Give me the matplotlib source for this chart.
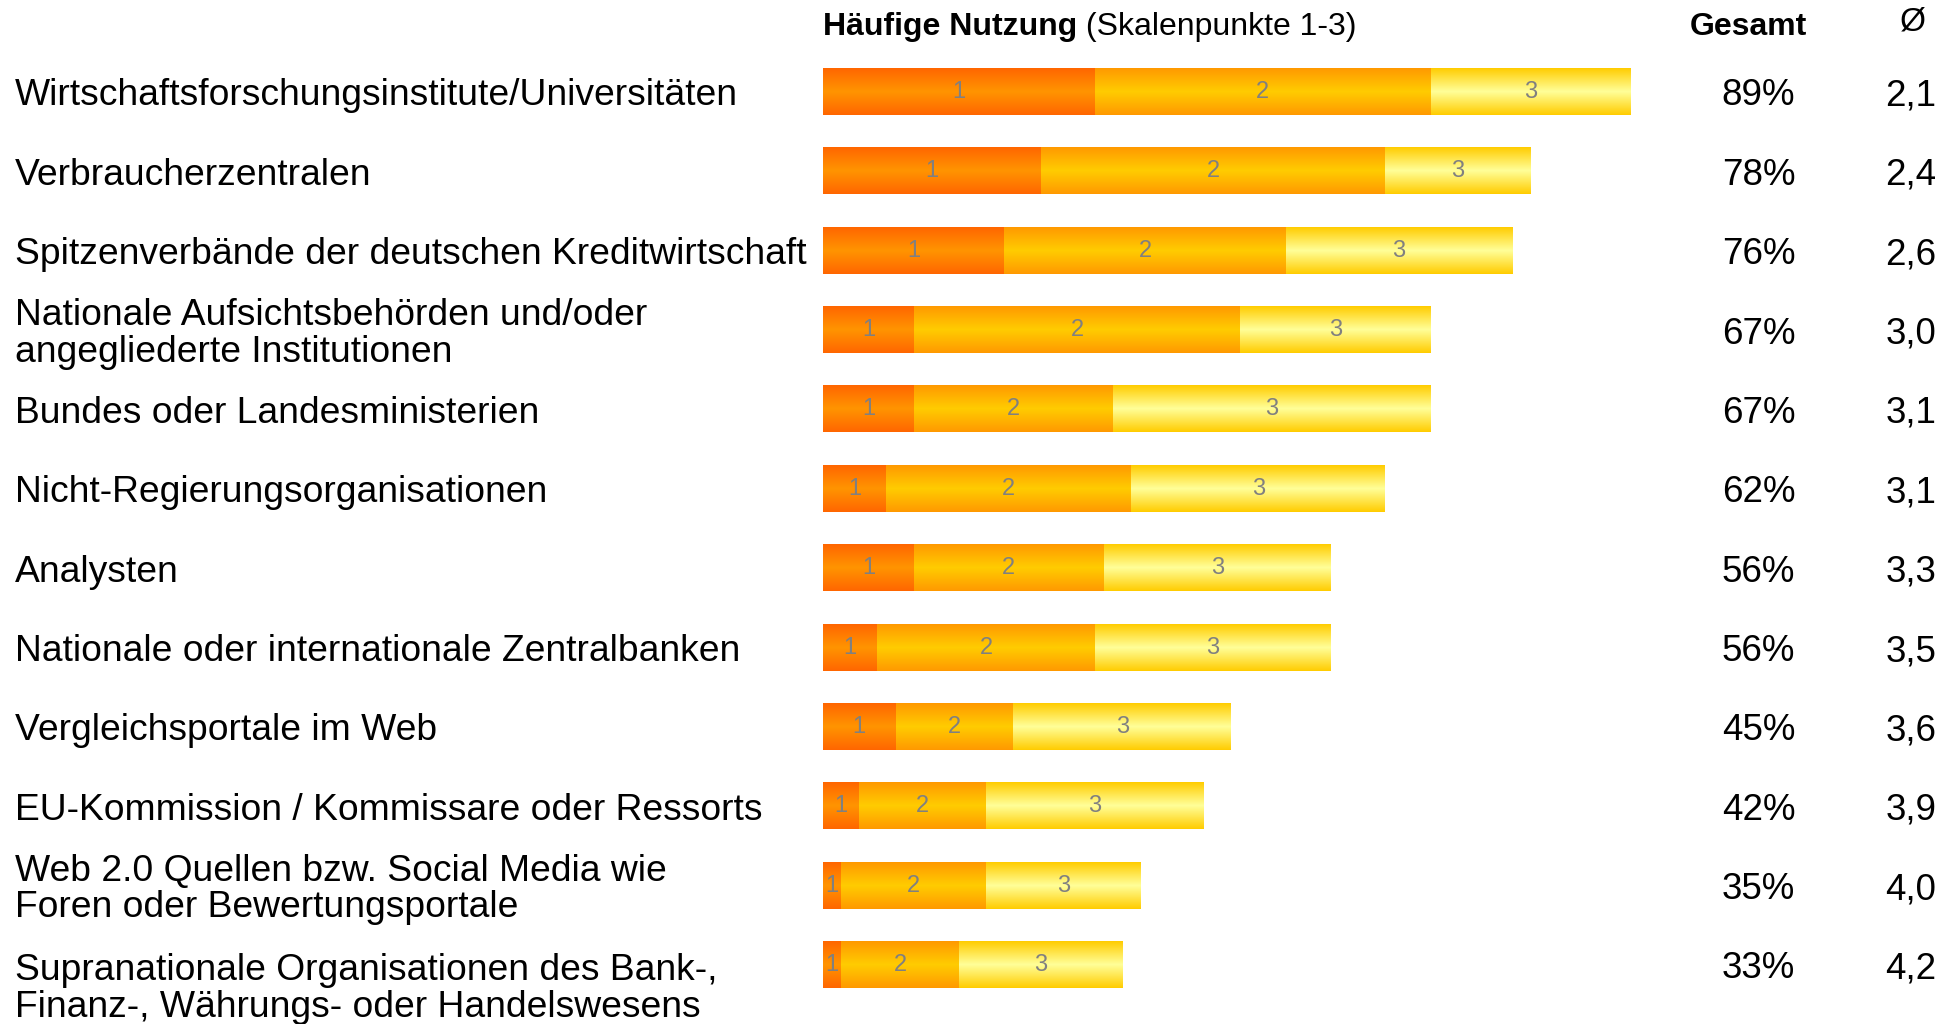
import numpy as np
import matplotlib
matplotlib.use("Agg")
import matplotlib.pyplot as plt
import matplotlib.transforms as mtransforms
from matplotlib.colors import LinearSegmentedColormap

plt.rcParams['font.family'] = ['Liberation Sans', 'DejaVu Sans']

# data
labels = [
    "Wirtschaftsforschungsinstitute/Universitäten",
    "Verbraucherzentralen",
    "Spitzenverbände der deutschen Kreditwirtschaft",
    "Nationale Aufsichtsbehörden und/oder\nangegliederte Institutionen",
    "Bundes oder Landesministerien",
    "Nicht-Regierungsorganisationen",
    "Analysten",
    "Nationale oder internationale Zentralbanken",
    "Vergleichsportale im Web",
    "EU-Kommission / Kommissare oder Ressorts",
    "Web 2.0 Quellen bzw. Social Media wie\nForen oder Bewertungsportale",
    "Supranationale Organisationen des Bank-,\nFinanz-, Währungs- oder Handelswesens",
]
scale1 = [30, 24, 20, 10, 10, 7, 10, 6, 8, 4, 2, 2]
scale2 = [37, 38, 31, 36, 22, 27, 21, 24, 13, 14, 16, 13]
scale3 = [22, 16, 25, 21, 35, 28, 25, 26, 24, 24, 17, 18]
gesamt = ["89%", "78%", "76%", "67%", "67%", "62%", "56%", "56%", "45%", "42%", "35%", "33%"]
mittel = ["2,1", "2,4", "2,6", "3,0", "3,1", "3,1", "3,3", "3,5", "3,6", "3,9", "4,0", "4,2"]
seg_names = ["1", "2", "3"]

# edge colour -> middle colour for the vertical gradients
cmaps = [
    LinearSegmentedColormap.from_list("s1", ["#FF6600", "#FF9400", "#FF6600"]),
    LinearSegmentedColormap.from_list("s2", ["#FF9900", "#FFCC00", "#FF9900"]),
    LinearSegmentedColormap.from_list("s3", ["#FFCC00", "#FFFF99", "#FFCC00"]),
]

W, H = 1956, 1024
fig = plt.figure(figsize=(W / 100, H / 100), dpi=100)
fig.patch.set_facecolor("white")

n = len(labels)
row_top = 92 - 39.7
row_bot = 965 + 39.7
ax = fig.add_axes([823 / W, 1 - row_bot / H, 907 / W, (row_bot - row_top) / H])
ax.axis("off")

bar_h = 0.58
grad = np.linspace(0, 1, 256).reshape(-1, 1)
for i in range(n):
    left = 0
    for k, vals in enumerate([scale1, scale2, scale3]):
        w = vals[i]
        ax.imshow(grad, cmap=cmaps[k], aspect="auto", interpolation="bilinear",
                  extent=[left, left + w, i + bar_h / 2, i - bar_h / 2])
        ax.text(left + w / 2, i, seg_names[k], ha="center", va="center",
                fontsize=17, color="#808080")
        left += w

ax.set_xlim(0, 100)
ax.set_ylim(n - 0.5, -0.5)

trans = mtransforms.blended_transform_factory(fig.transFigure, ax.transData)
dy = 0.05
for i in range(n):
    off = 0.25 if i == n - 1 else 0
    ax.text(15 / W, i + off + dy, labels[i], transform=trans, ha="left", va="center",
            fontsize=26.8, linespacing=1.05, color="black")
    ax.text(0.899, i + dy, gesamt[i], transform=trans, ha="center", va="center",
            fontsize=26.5, color="black")
    ax.text(0.977, i + dy, mittel[i], transform=trans, ha="center", va="center",
            fontsize=26.5, color="black")

# header
hy = 1 - 27 / H
t1 = fig.text(823 / W, hy, "Häufige Nutzung", fontsize=23, fontweight="bold",
              ha="left", va="center")
fig.canvas.draw()
bb = t1.get_window_extent()
fig.text(bb.x1 / W, hy, " (Skalenpunkte 1-3)", fontsize=23, ha="left", va="center")
fig.text(0.894, hy, "Gesamt", fontsize=23, fontweight="bold", ha="center", va="center")
fig.text(0.978, 1 - 22 / H, "Ø", fontsize=24, ha="center", va="center")

fig.savefig("out.png", dpi=100)
